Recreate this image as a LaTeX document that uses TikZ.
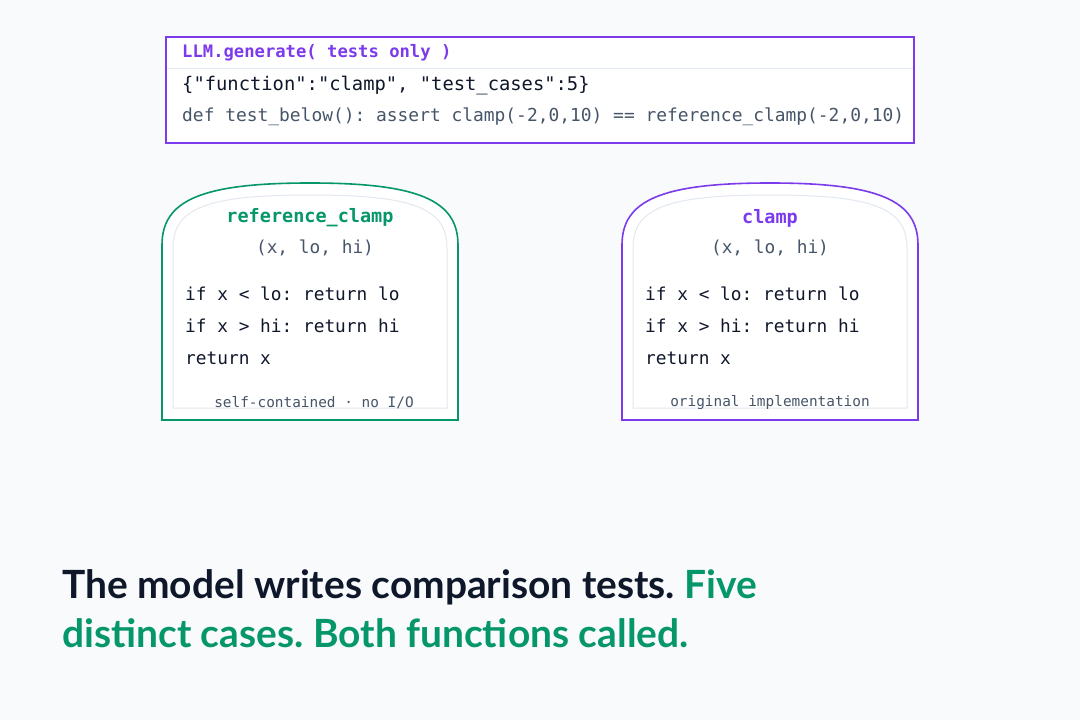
\documentclass[tikz,border=0pt]{standalone}
\usepackage{fontspec}
\setmainfont{Lato}
\setmonofont{DejaVu Sans Mono}
\frenchspacing
\definecolor{bgcol}{HTML}{F8FAFC}
\definecolor{llmpurple}{HTML}{7C3AED}
\definecolor{refgreen}{HTML}{059669}
\definecolor{inkdark}{HTML}{0F172A}
\definecolor{inkgray}{HTML}{475569}
\definecolor{rulegray}{HTML}{E2E8F0}
\tikzset{
  code/.style={anchor=west, inner sep=0pt, font=\ttfamily\fontsize{17.8}{20}\selectfont, text=inkdark},
  sig/.style={inner sep=0pt, font=\ttfamily\fontsize{17.8}{20}\selectfont, text=inkgray},
  foot/.style={inner sep=0pt, font=\ttfamily\fontsize{14.4}{16}\selectfont, text=inkgray},
  cardname/.style={inner sep=0pt, font=\ttfamily\bfseries\fontsize{18.5}{20}\selectfont},
  headline/.style={anchor=west, inner sep=0pt, font=\bfseries\fontsize{38.9}{42}\selectfont},
}
\newcommand{\archcard}[2]{% left x, colour
  \draw[#2, line width=1.6pt, fill=white]
    (#1,420) -- (#1,245) .. controls (#1,200) and (#1+40,183) .. (#1+148,183)
    .. controls (#1+256,183) and (#1+296,200) .. (#1+296,245) -- (#1+296,420) -- cycle;
  \draw[rulegray, line width=1pt]
    (#1+11,408) -- (#1+11,248) .. controls (#1+11,208) and (#1+45,195) .. (#1+148,195)
    .. controls (#1+251,195) and (#1+285,208) .. (#1+285,248) -- (#1+285,408) -- cycle;
}
\begin{document}
\begin{tikzpicture}[x=1pt,y=-1pt]
  \fill[bgcol] (0,0) rectangle (1080,720);
  \useasboundingbox (0,0) rectangle (1080,720);
  % prompt box
  \draw[llmpurple, line width=1.4pt, fill=white] (166,37) rectangle (914,143);
  \draw[rulegray, line width=1pt] (167,68) -- (913,68);
  \node[code, text=llmpurple, font=\ttfamily\bfseries\fontsize{17.2}{20}\selectfont] (prompt) at (182,53) {LLM.generate( tests only )};
  \node[code, font=\ttfamily\fontsize{18.8}{20}\selectfont] (spec) at (182,86) {\{"function":"clamp", "test\_cases":5\}};
  \node[code, text=inkgray, font=\ttfamily\fontsize{17.9}{20}\selectfont] (testline) at (182,117) {def test\_below(): assert clamp(-2,0,10) == reference\_clamp(-2,0,10)};
  % reference card
  \archcard{162}{refgreen}
  \node[cardname, text=refgreen] (refname) at (310,218) {reference\_clamp};
  \node[sig] (refsig) at (315,248) {(x, lo, hi)};
  \node[code] (refa) at (185,294) {if x < lo: return lo};
  \node[code] (refb) at (185,326) {if x > hi: return hi};
  \node[code] (refc) at (185,358) {return x};
  \node[foot] (reffoot) at (314,403) {self-contained · no I/O};
  % original card
  \archcard{622}{llmpurple}
  \node[cardname, text=llmpurple] (origname) at (770,218) {clamp};
  \node[sig] (origsig) at (770,248) {(x, lo, hi)};
  \node[code] (origa) at (645,294) {if x < lo: return lo};
  \node[code] (origb) at (645,326) {if x > hi: return hi};
  \node[code] (origc) at (645,358) {return x};
  \node[foot] (origfoot) at (770,403) {original implementation};
  % caption
  \node[headline, text=inkdark] (capa) at (62,587) {The model writes comparison tests. \textcolor{refgreen}{Five}};
  \node[headline, text=refgreen] (capb) at (62,633) {distinct cases. Both functions called.};
\end{tikzpicture}
\end{document}
